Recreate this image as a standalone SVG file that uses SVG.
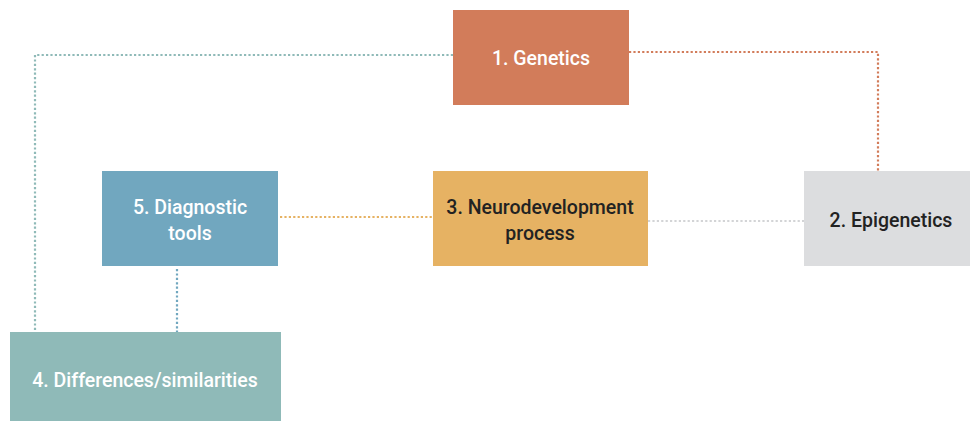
<svg xmlns="http://www.w3.org/2000/svg" width="970" height="421" viewBox="0 0 970 421">
<style>
.c{fill:none;stroke-width:2.2;stroke-dasharray:2.2 2.2}
.t{font-family:Roboto,"Liberation Sans",sans-serif;font-size:19.5px;font-weight:500;text-anchor:middle}
.w{fill:#ffffff}
.d{fill:#222222}
</style>
<rect width="970" height="421" fill="#ffffff"/>
<g id="connectors">
<path class="c" stroke="#8fbab8" d="M453 55H35V332"/>
<path class="c" stroke="#d27c5a" d="M629 52H878V171"/>
<path class="c" stroke="#e6b263" d="M280 217H433"/>
<path class="c" stroke="#d3d4d6" d="M648 221H804"/>
<path class="c" stroke="#71a7bf" d="M177 269V332"/>
</g>
<g id="n1">
<rect x="453" y="10" width="176" height="95" fill="#d27c5a"/>
<text class="t w" x="541" y="65">1. Genetics</text>
</g>
<g id="n2">
<rect x="804" y="171" width="166" height="95" fill="#dcdddf"/>
<text class="t d" x="891" y="227">2. Epigenetics</text>
</g>
<g id="n3">
<rect x="433" y="171" width="215" height="95" fill="#e6b263"/>
<text class="t d" x="540" y="214">3. Neurodevelopment</text>
<text class="t d" x="540" y="240">process</text>
</g>
<g id="n5">
<rect x="102" y="171" width="176" height="95" fill="#71a7bf"/>
<text class="t w" x="190" y="214">5. Diagnostic</text>
<text class="t w" x="190" y="240">tools</text>
</g>
<g id="n4">
<rect x="10" y="332" width="271" height="89" fill="#8fbab8"/>
<text class="t w" x="145" y="387">4. Differences/similarities</text>
</g>
</svg>
